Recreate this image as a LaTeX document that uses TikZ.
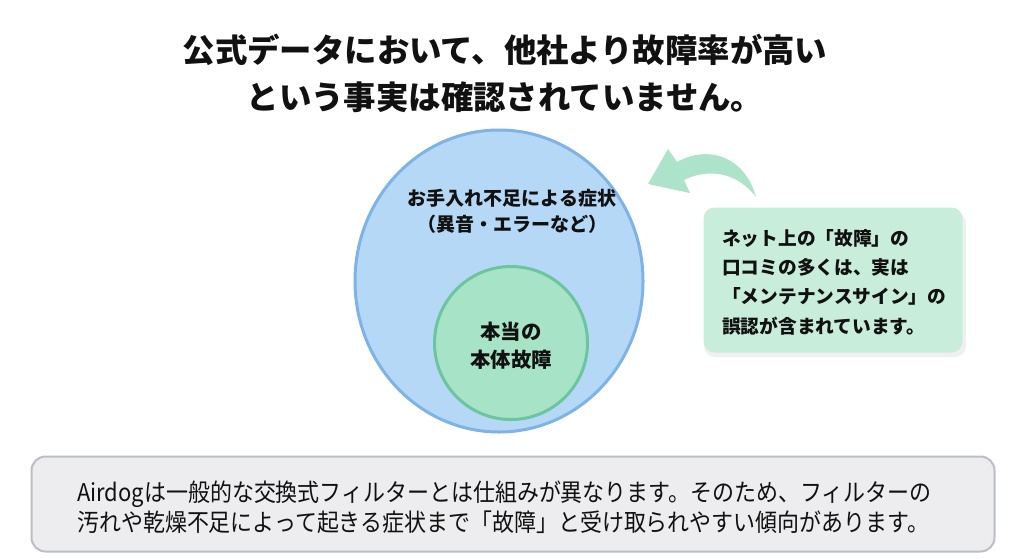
\documentclass[tikz,border=0pt]{standalone}
\usepackage{fontspec}
\newfontfamily\jp{Noto Sans CJK JP}
\newfontfamily\jpnarrow[FakeStretch=0.9]{Noto Sans CJK JP}
\usetikzlibrary{shapes.geometric}
\definecolor{outerfill}{HTML}{B4D8F6}
\definecolor{outerline}{HTML}{7DB3E6}
\definecolor{innerfill}{HTML}{A6E3C7}
\definecolor{innerline}{HTML}{6CC59E}
\definecolor{calloutfill}{HTML}{C8EEDB}
\definecolor{arrowfill}{HTML}{ADE3CB}
\definecolor{notefill}{HTML}{EDEDEF}
\definecolor{noteline}{HTML}{BBBFC4}
\definecolor{inktext}{HTML}{111111}
\tikzset{
  txt/.style={inner sep=0pt, text=inktext, font=\jp},
  outerset/.style={ellipse, draw=outerline, fill=outerfill, line width=3pt, inner sep=0pt},
  innerset/.style={circle, draw=innerline, fill=innerfill, line width=3pt, inner sep=0pt},
}
\begin{document}
\begin{tikzpicture}[x=1pt,y=-1pt]
\useasboundingbox (0,0) rectangle (1024,558);
\fill[white] (0,0) rectangle (1024,558);

% title
\node[txt, align=center, font=\jp\bfseries\fontsize{32.4}{47}\selectfont] (title) at (505,73)
  {公式データにおいて、他社より故障率が高い\\という事実は確認されていません。};

% circles
\node[outerset, minimum width=288pt, minimum height=302pt] (outer) at (499,281) {};
\node[innerset, minimum size=153pt] (inner) at (511,343) {};

\node[txt, align=center, font=\jp\bfseries\fontsize{19}{26}\selectfont] (outertext) at (512,211)
  {お手入れ不足による症状\\（異音・エラーなど）};
\node[txt, align=center, font=\jp\bfseries\fontsize{20.4}{28}\selectfont] (innertext) at (511,346)
  {本当の\\本体故障};

% callout
\fill[black, opacity=0.06, rounded corners=11pt] (704,212) rectangle (966,357);
\node[fill=calloutfill, rounded corners=11pt, minimum width=259pt, minimum height=145pt, inner sep=0pt] (callout) at (833,280) {};
\node[txt, align=left, anchor=west, font=\jp\bfseries\fontsize{18.7}{29.3}\selectfont] (callouttext) at (722,282)
  {ネット上の「故障」の\\口コミの多くは、実は\\「メンテナンスサイン」の\\誤認が含まれています。};

% curved arrow
\fill[arrowfill] (756,197) .. controls (746,160) and (712,143) .. (677,162)
  -- (668,149) -- (648,184) -- (690,193) -- (684,180)
  .. controls (708,168) and (737,172) .. (756,197) -- cycle;

% bottom note
\node[draw=noteline, fill=notefill, line width=2pt, rounded corners=14pt, minimum width=963pt, minimum height=95pt, inner sep=0pt] (note) at (513,504) {};
\node[txt, align=left, anchor=west, font=\jpnarrow\fontsize{24.4}{30}\selectfont] (notetext) at (77,507)
  {Airdogは一般的な交換式フィルターとは仕組みが異なります。そのため、フィルターの\\汚れや乾燥不足によって起きる症状まで「故障」と受け取られやすい傾向があります。};
\end{tikzpicture}
\end{document}
